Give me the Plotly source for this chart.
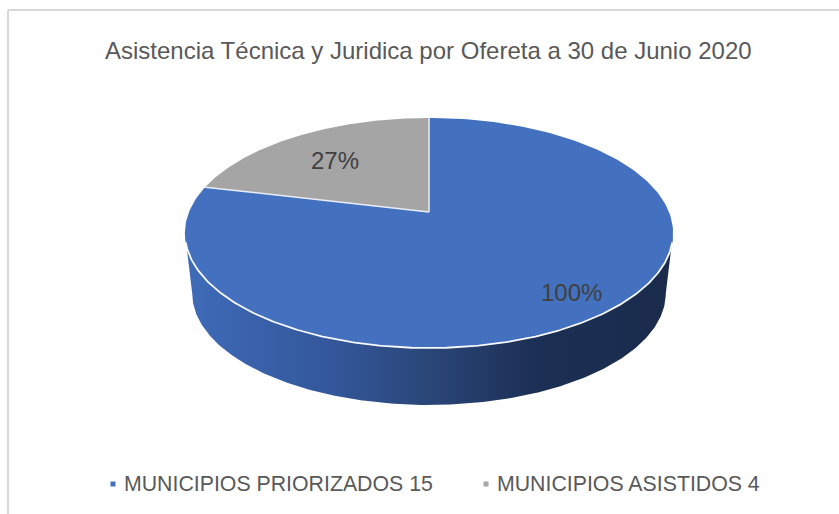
import numpy as np
import plotly.graph_objects as go

# ---- data ----
categories = ["MUNICIPIOS PRIORIZADOS 15", "MUNICIPIOS ASISTIDOS 4"]
values = [100, 27]
labels = ["100%", "27%"]
colors = ["#4371BF", "#A5A5A5"]
title = "Asistencia Técnica y Juridica por Ofereta a 30 de Junio 2020"

# ---- perspective view of the pie (in canvas units) ----
W, H = 839, 514
CX, CY = 429, 212      # apex of the pie on the canvas
A, B, K = 240, 111.2, 0.1826  # horizontal / vertical radius, perspective
DEPTH, BOTTOM_SCALE = 61, 0.97
LABEL_RADIUS = [0.83, 0.66]
LABEL_XSHIFT = [2, -4]
LABEL_YSHIFT = [2, -1]


def project(r, theta, drop=0.0, scale=1.0):
    """theta is measured clockwise from the top of the pie."""
    u, v = r * np.sin(theta), r * np.cos(theta)
    d = 1 + K * v
    return CX + scale * A * u / d, CY + drop - scale * B * v / d


total = sum(values)
fractions = [v / total for v in values]
starts = [0.0, fractions[0] * 2 * np.pi]
ends = [fractions[0] * 2 * np.pi, 2 * np.pi]

fig = go.Figure()

# Outer wall between the top rim and the bottom rim, limited by the silhouette
tangent = np.arcsin(K)
t_front = np.linspace(np.pi * 0.5 + tangent, np.pi * 1.5 - tangent, 240)
xt, yt = project(1, t_front)
xb, yb = project(1, t_front, DEPTH, BOTTOM_SCALE)
fig.add_trace(go.Scatter(
    x=np.r_[xt, xb[::-1]], y=np.r_[yt, yb[::-1]],
    mode="lines", line=dict(width=0), fill="toself",
    fillgradient=dict(
        type="horizontal",
        colorscale=[[0, "#3F6BB8"], [0.3, "#33579A"], [0.5, "#2A4678"],
                    [0.72, "#1C2F54"], [1, "#1A2B4C"]],
    ),
    hoverinfo="skip", showlegend=False,
))

# Top face slices
for i in [1, 0]:
    t = np.linspace(starts[i], ends[i], 240)
    x, y = project(1, t)
    fig.add_trace(go.Scatter(
        x=np.r_[CX, x, CX], y=np.r_[CY, y, CY],
        mode="lines", line=dict(color=colors[i], width=0),
        fill="toself", fillcolor=colors[i], name=categories[i],
        hoverinfo="skip", showlegend=False,
    ))

# White seams: the two radii and the front of the rim
for th in (0.0, ends[0]):
    x, y = project(np.array([0.0, 1.0]), th)
    fig.add_trace(go.Scatter(x=x, y=y, mode="lines",
                             line=dict(color="#E9EEF8", width=1.5),
                             hoverinfo="skip", showlegend=False))
t_rim = np.linspace(t_front[0] + 0.08, t_front[-1] - 0.08, 240)
x, y = project(1, t_rim)
fig.add_trace(go.Scatter(x=x, y=y, mode="lines",
                         line=dict(color="#F8F9FC", width=1.8),
                         hoverinfo="skip", showlegend=False))

# Slice labels
for i in range(len(values)):
    mid = (starts[i] + ends[i]) / 2
    x, y = project(LABEL_RADIUS[i], mid)
    fig.add_annotation(x=float(x), y=float(y), text=labels[i], showarrow=False,
                       xshift=LABEL_XSHIFT[i], yshift=LABEL_YSHIFT[i],
                       font=dict(family="Liberation Sans", size=24, color="#404040"))

# Legend row
LEG_MARKER_X = [113, 486]
LEG_TEXT_X = [123, 496]
LEG_Y = 484
for i, c in enumerate(categories):
    fig.add_trace(go.Scatter(x=[LEG_MARKER_X[i]], y=[LEG_Y], mode="markers",
                             marker=dict(symbol="square", size=5, color=colors[i]),
                             name=c, hoverinfo="skip", showlegend=False))
    fig.add_annotation(x=LEG_TEXT_X[i], y=LEG_Y, text=c, showarrow=False, xanchor="left",
                       xshift=-1,
                       font=dict(family="Liberation Sans", size=21.3, color="#595959"))

fig.add_annotation(x=428, y=50, text=title, showarrow=False,
                   font=dict(family="Liberation Sans", size=24, color="#595959"))

# Chart frame
fig.add_shape(type="line", x0=8, x1=8, y0=10, y1=H, line=dict(color="#D9D9D9", width=2))
fig.add_shape(type="line", x0=8, x1=W, y0=10, y1=10, line=dict(color="#D9D9D9", width=2))

fig.update_layout(
    width=W, height=H, margin=dict(l=0, r=0, t=0, b=0),
    paper_bgcolor="white", plot_bgcolor="white", showlegend=False,
    xaxis=dict(range=[0, W], visible=False, fixedrange=True),
    yaxis=dict(range=[H, 0], visible=False, fixedrange=True),
)
fig.write_html(
    "out.html", config={"displayModeBar": False},
    post_script="document.body.style.margin='0';document.documentElement.style.overflow='hidden';",
)
